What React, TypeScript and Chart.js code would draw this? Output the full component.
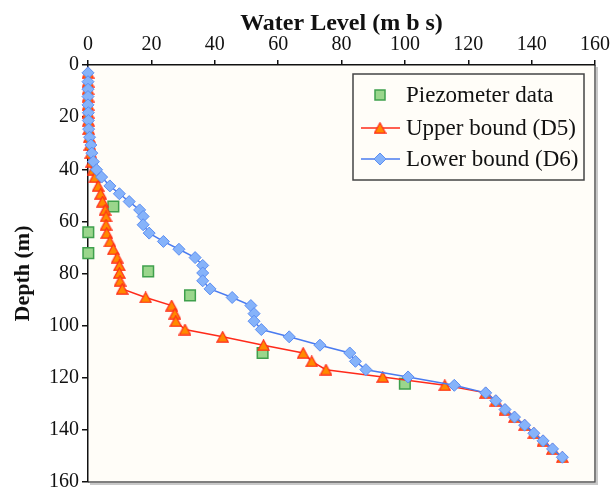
import React, { useEffect, useRef } from 'react';
import { Chart, registerables } from 'chart.js';

Chart.register(...registerables);

// Depth (m) of the model points
const depths = [3.0, 6.4, 9.3, 12.1, 15.3, 18.3, 21.3, 24.6, 27.7, 30.7, 33.8, 37.1, 40.2, 43.0, 46.4, 49.4, 52.4, 55.6, 58.1, 61.3, 64.5, 67.7, 70.7, 73.9, 76.9, 79.8, 82.8, 85.9, 89.2, 92.3, 95.4, 98.3, 101.5, 104.3, 107.5, 110.5, 113.7, 116.9, 119.7, 122.9, 125.8, 128.8, 132.2, 135.1, 138.2, 141.3, 144.2, 147.3, 150.5];

// Water level (m b s) – lower bound (D6)
const lowerD6 = [0, 0, 0, 0, 0, 0.1, 0.1, 0.2, 0.5, 0.9, 1.2, 1.7, 2.7, 4.3, 6.9, 9.9, 13.0, 16.3, 17.4, 17.4, 19.3, 23.8, 28.7, 33.8, 36.2, 36.2, 36.2, 38.5, 45.5, 51.4, 52.4, 52.4, 54.7, 63.5, 73.2, 82.6, 84.4, 87.7, 101.0, 115.6, 125.5, 128.7, 131.6, 134.6, 137.8, 140.7, 143.6, 146.6, 149.7];

// Water level (m b s) – upper bound (D5)
const upperD5 = [0, 0, 0, 0, 0, 0, 0.1, 0.2, 0.4, 0.6, 0.9, 1.2, 1.6, 2.2, 3.2, 4.0, 4.6, 5.4, 5.7, 5.7, 5.9, 6.9, 8.0, 9.2, 9.9, 9.9, 10.1, 10.8, 18.2, 26.4, 27.4, 27.7, 30.6, 42.5, 55.4, 67.9, 70.6, 75.1, 93.0, 112.6, 125.5, 128.7, 131.6, 134.6, 137.8, 140.7, 143.6, 146.6, 149.7];

// Piezometer data
const piezoDepth = [54.3, 64.2, 72.2, 79.2, 88.4, 110.5, 122.3];
const piezoLevel = [8.0, 0.1, 0.1, 19.0, 32.2, 55.1, 100.0];

const legendLabels = ['Piezometer data', 'Upper bound (D5)', 'Lower bound (D6)'];
const xTitle = 'Water Level (m b s)';
const yTitle = 'Depth (m)';

const SERIF = "'Liberation Serif', 'Times New Roman', serif";

const C = {
  blueLine: '#4A7BF0',
  blueFill: '#86B3FA',
  blueEdge: '#5C8EF2',
  redLine: '#FF2A1A',
  orangeFill: '#FF8A00',
  redEdge: '#FF2A1A',
  greenFill: '#9AD68C',
  greenEdge: '#3FA04C',
  plotBg: '#FFFDF8',
};

function makeTriangleCanvas() {
  const w = 13, h = 12;
  const cv = document.createElement('canvas');
  cv.width = w;
  cv.height = h;
  const ctx = cv.getContext('2d')!;
  ctx.beginPath();
  ctx.moveTo(w / 2, 0.8);
  ctx.lineTo(w - 0.8, h - 0.8);
  ctx.lineTo(0.8, h - 0.8);
  ctx.closePath();
  ctx.fillStyle = C.orangeFill;
  ctx.fill();
  ctx.strokeStyle = C.redEdge;
  ctx.lineWidth = 1.2;
  ctx.stroke();
  return cv;
}

const bgPlugin = {
  id: 'bgPlugin',
  beforeDraw(chart: any) {
    const { ctx, chartArea: a } = chart;
    ctx.save();
    ctx.fillStyle = C.plotBg;
    ctx.fillRect(a.left, a.top, a.right - a.left, a.bottom - a.top);
    ctx.strokeStyle = '#C8C8C8';
    ctx.lineWidth = 2;
    ctx.beginPath();
    ctx.moveTo(a.right + 2, a.top + 2);
    ctx.lineTo(a.right + 2, a.bottom + 2);
    ctx.lineTo(a.left + 2, a.bottom + 2);
    ctx.stroke();
    ctx.strokeStyle = '#555555';
    ctx.lineWidth = 1.5;
    ctx.beginPath();
    ctx.moveTo(a.right, a.top);
    ctx.lineTo(a.right, a.bottom);
    ctx.lineTo(a.left, a.bottom);
    ctx.stroke();
    ctx.restore();
  },
};

function diamond(ctx: any, x: number, y: number, r: number) {
  ctx.beginPath();
  ctx.moveTo(x - r, y);
  ctx.lineTo(x, y - r);
  ctx.lineTo(x + r, y);
  ctx.lineTo(x, y + r);
  ctx.closePath();
}

function makeLegendPlugin(tri: HTMLCanvasElement) {
  return {
    id: 'customLegend',
    afterDraw(chart: any) {
      const { ctx } = chart;
      const bx = 353, by = 74, bw = 231, bh = 106;
      ctx.save();
      ctx.fillStyle = C.plotBg;
      ctx.fillRect(bx, by, bw, bh);
      ctx.strokeStyle = '#444444';
      ctx.lineWidth = 1.5;
      ctx.strokeRect(bx, by, bw, bh);

      const rows = [95, 128, 159];
      const mx = 380;
      ctx.fillStyle = C.greenFill;
      ctx.strokeStyle = C.greenEdge;
      ctx.lineWidth = 1.5;
      ctx.fillRect(mx - 5, rows[0] - 5, 10, 10);
      ctx.strokeRect(mx - 5, rows[0] - 5, 10, 10);

      ctx.strokeStyle = C.redLine;
      ctx.lineWidth = 1.5;
      ctx.beginPath();
      ctx.moveTo(361, rows[1]);
      ctx.lineTo(400, rows[1]);
      ctx.stroke();
      ctx.drawImage(tri, mx - tri.width / 2, rows[1] - tri.height / 2);

      ctx.strokeStyle = C.blueLine;
      ctx.lineWidth = 1.5;
      ctx.beginPath();
      ctx.moveTo(361, rows[2]);
      ctx.lineTo(400, rows[2]);
      ctx.stroke();
      diamond(ctx, mx, rows[2], 6);
      ctx.fillStyle = C.blueFill;
      ctx.fill();
      ctx.strokeStyle = C.blueEdge;
      ctx.lineWidth = 1;
      ctx.stroke();

      ctx.fillStyle = '#111111';
      ctx.font = `23px ${SERIF}`;
      ctx.textAlign = 'left';
      ctx.textBaseline = 'middle';
      legendLabels.forEach((t, i) => ctx.fillText(t, 406, rows[i] + 1));
      ctx.restore();
    },
  };
}

export default function App() {
  const ref = useRef<HTMLCanvasElement | null>(null);

  useEffect(() => {
    if (!ref.current) return;
    const tri = makeTriangleCanvas();
    const chart = new Chart(ref.current, {
      type: 'scatter',
      data: {
        datasets: [
          {
            label: legendLabels[2],
            data: depths.map((d, i) => ({ x: lowerD6[i], y: d })),
            showLine: true,
            borderColor: C.blueLine,
            borderWidth: 1.5,
            pointStyle: 'rectRot',
            pointRadius: 6,
            pointBackgroundColor: C.blueFill,
            pointBorderColor: C.blueEdge,
            pointBorderWidth: 1,
            clip: false,
          },
          {
            label: legendLabels[1],
            data: depths.map((d, i) => ({ x: upperD5[i], y: d })),
            showLine: true,
            borderColor: C.redLine,
            borderWidth: 1.5,
            pointStyle: tri,
            pointRadius: 6,
            clip: false,
          },
          {
            label: legendLabels[0],
            data: piezoDepth.map((d, i) => ({ x: piezoLevel[i], y: d })),
            showLine: false,
            pointStyle: 'rect',
            pointRadius: 7.5,
            pointBackgroundColor: C.greenFill,
            pointBorderColor: C.greenEdge,
            pointBorderWidth: 1.5,
            clip: false,
          },
        ],
      },
      options: {
        responsive: false,
        animation: false,
        events: [],
        layout: { padding: { left: 0, top: 0, right: 17, bottom: 9 } },
        plugins: {
          legend: { display: false },
          tooltip: { enabled: false },
        },
        scales: {
          x: {
            type: 'linear',
            position: 'top',
            min: 0,
            max: 160,
            ticks: {
              stepSize: 20,
              color: '#111',
              font: { family: SERIF, size: 20 },
              padding: 3,
            },
            grid: {
              drawOnChartArea: false,
              drawTicks: true,
              tickLength: 5,
              color: '#111',
              lineWidth: 1.5,
            },
            border: { display: true, color: '#111', width: 1.5 },
            title: {
              display: true,
              text: xTitle,
              color: '#111',
              font: { family: SERIF, size: 24, weight: 'bold' },
              padding: { top: 9, bottom: 0 },
            },
            afterFit(scale: any) {
              scale.height = 65;
              scale.paddingLeft = 0;
              scale.paddingRight = 0;
              scale.paddingTop = 0;
              scale.paddingBottom = 0;
            },
          },
          y: {
            type: 'linear',
            position: 'left',
            reverse: true,
            min: 0,
            max: 160,
            ticks: {
              stepSize: 20,
              color: '#111',
              font: { family: SERIF, size: 20 },
              padding: 3,
            },
            grid: {
              drawOnChartArea: false,
              drawTicks: true,
              tickLength: 6,
              color: '#111',
              lineWidth: 1.5,
            },
            border: { display: true, color: '#111', width: 1.5 },
            title: {
              display: true,
              text: yTitle,
              color: '#111',
              font: { family: SERIF, size: 22, weight: 'bold' },
              padding: { top: 10, bottom: 0 },
            },
            afterFit(scale: any) {
              scale.width = 88;
              scale.paddingLeft = 0;
              scale.paddingRight = 0;
              scale.paddingTop = 0;
              scale.paddingBottom = 0;
            },
          },
        },
      },
      plugins: [bgPlugin, makeLegendPlugin(tri)],
    } as any);
    return () => chart.destroy();
  }, []);

  return (
    <div style={{ position: 'fixed', left: 0, top: 0, width: 612, height: 491, background: '#fff' }}>
      <canvas ref={ref} width={612} height={491} style={{ display: 'block', width: 612, height: 491 }} />
    </div>
  );
}
